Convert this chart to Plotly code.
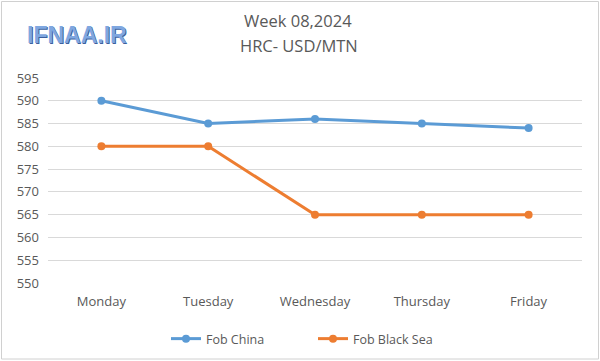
import plotly.graph_objects as go

days = ["Monday", "Tuesday", "Wednesday", "Thursday", "Friday"]
fob_china = [590, 585, 586, 585, 584]
fob_black_sea = [580, 580, 565, 565, 565]
y_ticks = [550, 555, 560, 565, 570, 575, 580, 585, 590, 595]

L, R, T, B = 48, 18, 78, 78
W, H = 600, 361
pw, ph = W - L - R, H - T - B

def px(x):
    return (x - L) / pw

def py(y):
    return (H - B - y) / ph

fig = go.Figure()
fig.add_trace(go.Scatter(x=days, y=fob_china, name="Fob China", mode="lines+markers",
                         line=dict(color="#5B9BD5", width=3), marker=dict(size=8, color="#5B9BD5")))
fig.add_trace(go.Scatter(x=days, y=fob_black_sea, name="Fob Black Sea", mode="lines+markers",
                         line=dict(color="#ED7D31", width=3), marker=dict(size=8, color="#ED7D31")))

fig.update_layout(
    width=W, height=H,
    margin=dict(l=L, r=R, t=T, b=B, autoexpand=False),
    paper_bgcolor="white", plot_bgcolor="white",
    font=dict(family="Open Sans, Liberation Sans, sans-serif", color="#595959", size=12),
    xaxis=dict(showgrid=False, showline=False, ticks="", tickfont=dict(size=13, color="#595959"),
               range=[-0.5, 4.5], fixedrange=True, automargin=False, ticklabelstandoff=9),
    yaxis=dict(range=[550, 595], tickvals=y_ticks, showgrid=True, gridcolor="#D9D9D9", gridwidth=1,
               zeroline=False, showline=False, ticks="", tickfont=dict(size=13, color="#595959"),
               ticklabelstandoff=8, automargin=False, fixedrange=True),
    showlegend=True,
    legend=dict(orientation="h", x=px(166), xanchor="left", y=py(339), yanchor="middle",
                font=dict(size=12.5, color="#595959"), entrywidth=102),
    annotations=[
        dict(text="Week 08,2024", x=px(298), y=py(21), xref="paper", yref="paper",
             xanchor="center", yanchor="middle",
             showarrow=False, font=dict(size=16.5, color="#595959")),
        dict(text="HRC- USD/MTN", x=px(299), y=py(45), xref="paper", yref="paper",
             xanchor="center", yanchor="middle",
             showarrow=False, font=dict(size=16.5, color="#595959")),
        dict(text="<b>IFNAA.IR</b>", x=px(78), y=py(36), xref="paper", yref="paper",
             xanchor="center", yanchor="middle",
             showarrow=False, font=dict(size=23, color="#3C5F9E", family="Liberation Sans, Arial")),
        dict(text="<b>IFNAA.IR</b>", x=px(77), y=py(35), xref="paper", yref="paper",
             xanchor="center", yanchor="middle",
             showarrow=False, font=dict(size=23, color="#7FA7E0", family="Liberation Sans, Arial")),
    ],
    shapes=[
        dict(type="rect", xref="paper", yref="paper", x0=px(1.5), x1=px(598.5), y0=py(359), y1=py(1.5),
             line=dict(color="#D0D0D0", width=1), fillcolor="rgba(0,0,0,0)", layer="below"),
    ],
)

fig.write_html("out.html", config={"displayModeBar": False},
               post_script="document.body.style.margin='0';")
